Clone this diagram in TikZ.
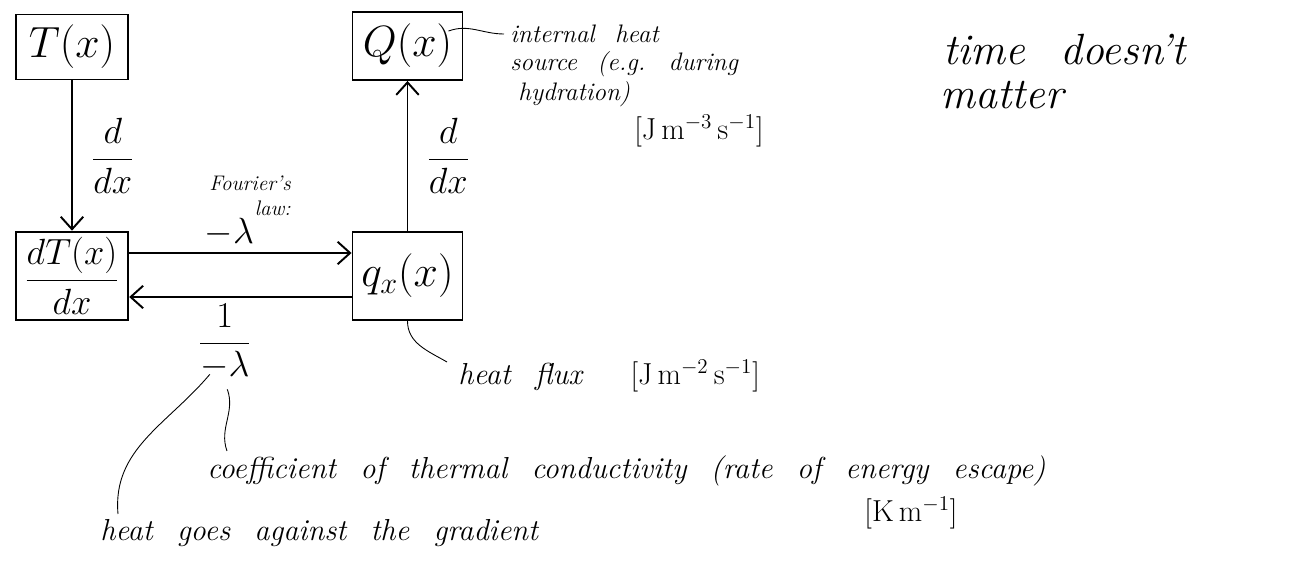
\documentclass[tikz,border=0pt]{standalone}
\usetikzlibrary{arrows.meta}

\newcommand{\wordgap}{\spaceskip 0.8em plus 0.2em\relax}

\begin{document}
\begin{tikzpicture}[
    % Boxes for the quantities
    qbox/.style={
        rectangle,
        draw=black,
        line width=1.1pt,
        text centered,
        minimum width=2.25cm,
        minimum height=1.3cm,
        font=\fontsize{26}{30}\selectfont
    },
    % Arrows
    flow/.style={-{Straight Barb[length=2.5mm,width=4.5mm]}, line width=1.1pt},
    note/.style={line width=0.5pt},
    % Labels
    oplabel/.style={font=\fontsize{22}{26}\selectfont},
    hand/.style={font={\LARGE\itshape\wordgap}, anchor=west, inner sep=0pt},
    smallhand/.style={font={\Large\itshape\wordgap}, anchor=west, inner sep=0pt},
    bighand/.style={font={\Huge\itshape\wordgap}, anchor=west, inner sep=0pt}
]

\fill[white] (0,0) rectangle (25.94,-11.44);
\useasboundingbox (0,0) rectangle (25.94,-11.44);

% Quantities
\node[qbox] (T) at (1.44,-0.94) {$T(x)$};
\node[qbox, minimum width=2.2cm, minimum height=1.36cm] (Q) at (8.15,-0.92) {$Q(x)$};
\node[qbox, minimum height=1.74cm, font=\fontsize{20}{24}\selectfont] (dT) at (1.44,-5.52) {$\displaystyle\frac{dT(x)}{dx}$};
\node[qbox, minimum width=2.2cm, minimum height=1.76cm] (q) at (8.15,-5.52) {$q_x(x)$};

% Derivatives
\draw[flow] (T) -- (dT) node[oplabel, midway, right, xshift=0.25cm] (dleft) {$\displaystyle\frac{d}{dx}$};
\draw[flow] (q) -- (Q) node[oplabel, midway, right, xshift=0.25cm] (dright) {$\displaystyle\frac{d}{dx}$};

% Fourier's law both ways
\draw[flow] ([yshift=0.46cm]dT.east) -- ([yshift=0.46cm]q.west)
    node[oplabel, pos=0.45, above] (lam) {$-\lambda$};
\draw[flow] ([yshift=-0.42cm]q.west) -- ([yshift=-0.42cm]dT.east)
    node[oplabel, pos=0.57, below] (invlam) {$\displaystyle\frac{1}{-\lambda}$};
\node[font=\large\itshape, align=right] (fourier) at (5.0,-3.92) {Fourier's\\law:};

% Notes
\node[smallhand] (src1) at (10.2,-0.68) {internal heat};
\node[smallhand] (src2) at (10.2,-1.28) {source (e.g. during};
\node[smallhand] (src3) at (10.36,-1.88) {hydration)};
\node[hand, anchor=center] (srcunit) at (13.98,-2.62) {$[\mathrm{J\,m^{-3}\,s^{-1}}]$};

\node[bighand] (time) at (18.86,-1.0) {time doesn't};
\node[bighand] (matter) at (18.8,-1.9) {matter};

\node[hand] (flux) at (9.16,-7.52) {heat flux \ $[\mathrm{J\,m^{-2}\,s^{-1}}]$};
\node[hand] (coef) at (4.14,-9.42) {coefficient of thermal conductivity (rate of energy escape)};
\node[hand, anchor=center] (unitk) at (18.22,-10.26) {$[\mathrm{K\,m^{-1}}]$};
\node[hand] (against) at (2.0,-10.66) {heat goes against the gradient};

% Pointers to the notes
\draw[note] ([shift={(-0.3,-0.4)}]Q.north east) to[out=20,in=180] ([xshift=-0.12cm]src1.west);
\draw[note] (q.south) to[out=-90,in=150] ([shift={(-0.22,0.28)}]flux.west);
\draw[note] ([shift={(0.4,0.4)}]coef.west) to[out=110,in=-70] ([shift={(0.05,-0.05)}]invlam.south);
\draw[note] ([shift={(0.36,0.38)}]against.west) to[out=95,in=-130] ([shift={(-0.3,0.25)}]invlam.south);

\end{tikzpicture}
\end{document}
